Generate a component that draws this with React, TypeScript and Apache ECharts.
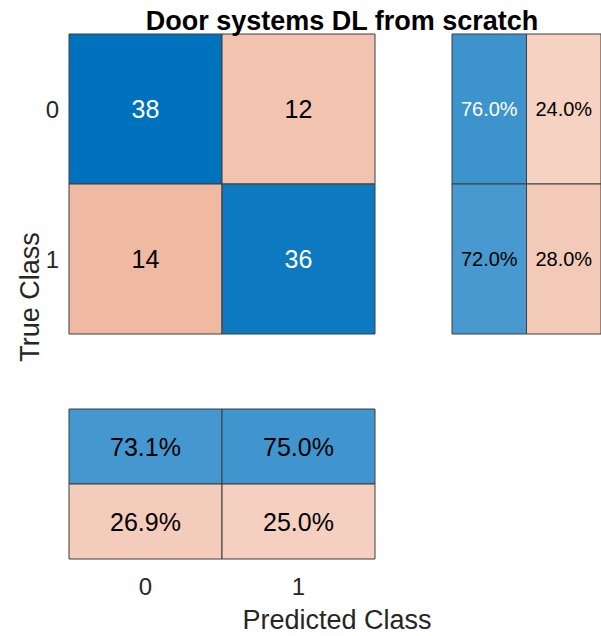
import React, { useEffect, useRef } from "react";
import * as echarts from "echarts";

const titleText = "Door systems DL from scratch";
const classes = ["0", "1"];
const yAxisTitle = "True Class";
const xAxisTitle = "Predicted Class";
// confusion counts [trueRow][predCol]
const counts = [
  [38, 12],
  [14, 36],
];
// row summary (per true class): [correct %, incorrect %]
const rowSummary = [
  [76.0, 24.0],
  [72.0, 28.0],
];
// column summary (per predicted class): row 0 = correct %, row 1 = incorrect %
const colSummary = [
  [73.1, 75.0],
  [26.9, 25.0],
];

const FONT = "'Liberation Sans', Arial, Helvetica, sans-serif";
const BLUE = [0, 114, 189];
const ORANGE = [217, 83, 25];

function mix(c: number[], f: number) {
  const r = Math.round(255 - (255 - c[0]) * f);
  const g = Math.round(255 - (255 - c[1]) * f);
  const b = Math.round(255 - (255 - c[2]) * f);
  return `rgb(${r},${g},${b})`;
}

type Cell = { value: number[]; fill: string; txt: string; color: string };

function makeRender(cells: Cell[], fontSize: number) {
  return (params: any, api: any) => {
    const cell = cells[params.dataIndex];
    const c = api.coord([api.value(0), api.value(1)]);
    const s = api.size([1, 1]);
    return {
      type: "group",
      children: [
        {
          type: "rect",
          shape: { x: c[0] - s[0] / 2, y: c[1] - s[1] / 2, width: s[0], height: s[1] },
          style: { fill: cell.fill, stroke: "#3c3c3c", lineWidth: 1 },
        },
        {
          type: "text",
          x: c[0],
          y: c[1],
          style: {
            text: cell.txt,
            fill: cell.color,
            fontFamily: FONT,
            fontSize,
            align: "center",
            verticalAlign: "middle",
          },
        },
      ],
    };
  };
}

export default function App() {
  const ref = useRef<HTMLDivElement>(null);
  useEffect(() => {
    if (!ref.current) return;
    const chart = echarts.init(ref.current, undefined, { renderer: "svg" });
    const maxCount = Math.max(...counts.flat());
    const ORANGE_GAIN = 1.1;

    const mainCells: Cell[] = [];
    counts.forEach((row, i) =>
      row.forEach((v, j) => {
        const diag = i === j;
        const f = v / maxCount;
        mainCells.push({
          value: [j, i, v],
          fill: mix(diag ? BLUE : ORANGE, diag ? f : f * ORANGE_GAIN),
          txt: String(v),
          color: diag && f > 0.6 ? "#ffffff" : "#000000",
        });
      })
    );

    const rowCells: Cell[] = [];
    rowSummary.forEach((row, i) =>
      row.forEach((v, j) => {
        const good = j === 0;
        const f = v / 100;
        rowCells.push({
          value: [j, i, v],
          fill: mix(good ? BLUE : ORANGE, good ? f : f * ORANGE_GAIN),
          txt: v.toFixed(1) + "%",
          color: good && f > 0.755 ? "#ffffff" : "#000000",
        });
      })
    );

    const colCells: Cell[] = [];
    colSummary.forEach((row, i) =>
      row.forEach((v, j) => {
        const good = i === 0;
        const f = v / 100;
        colCells.push({
          value: [j, i, v],
          fill: mix(good ? BLUE : ORANGE, good ? f : f * ORANGE_GAIN),
          txt: v.toFixed(1) + "%",
          color: good && f > 0.755 ? "#ffffff" : "#000000",
        });
      })
    );

    const hiddenAxis = {
      type: "category" as const,
      axisLine: { show: false },
      axisTick: { show: false },
      axisLabel: { show: false },
      splitLine: { show: false },
    };

    chart.setOption({
      animation: false,
      backgroundColor: "#ffffff",
      title: {
        text: titleText,
        left: 337,
        top: 2,
        textAlign: "center",
        textStyle: { fontFamily: FONT, fontWeight: "bold", fontSize: 27, color: "#000" },
      },
      grid: [
        { left: 69, top: 34, width: 306, height: 300 },
        { left: 452, top: 34, width: 152, height: 300 },
        { left: 69, top: 409, width: 306, height: 150 },
      ],
      xAxis: [
        { ...hiddenAxis, gridIndex: 0, data: classes },
        { ...hiddenAxis, gridIndex: 1, data: ["c", "i"] },
        {
          ...hiddenAxis,
          gridIndex: 2,
          data: classes,
          axisLabel: { show: true, margin: 15, fontFamily: FONT, fontSize: 24, color: "#262626" },
        },
      ],
      yAxis: [
        {
          ...hiddenAxis,
          gridIndex: 0,
          data: classes,
          inverse: true,
          axisLabel: { show: true, margin: 10, fontFamily: FONT, fontSize: 24, color: "#262626" },
        },
        { ...hiddenAxis, gridIndex: 1, data: classes, inverse: true },
        { ...hiddenAxis, gridIndex: 2, data: ["c", "i"], inverse: true },
      ],
      series: [
        {
          type: "custom",
          xAxisIndex: 0,
          yAxisIndex: 0,
          data: mainCells.map((c) => c.value),
          renderItem: makeRender(mainCells, 25),
        },
        {
          type: "custom",
          xAxisIndex: 1,
          yAxisIndex: 1,
          data: rowCells.map((c) => c.value),
          renderItem: makeRender(rowCells, 20),
        },
        {
          type: "custom",
          xAxisIndex: 2,
          yAxisIndex: 2,
          data: colCells.map((c) => c.value),
          renderItem: makeRender(colCells, 25),
        },
      ],
      graphic: [
        {
          type: "text",
          x: 30,
          y: 297,
          rotation: Math.PI / 2,
          style: {
            text: yAxisTitle,
            fontFamily: FONT,
            fontSize: 27,
            fill: "#262626",
            align: "center",
            verticalAlign: "middle",
          },
        },
        {
          type: "text",
          x: 337,
          y: 620,
          style: {
            text: xAxisTitle,
            fontFamily: FONT,
            fontSize: 27,
            fill: "#262626",
            align: "center",
            verticalAlign: "middle",
          },
        },
      ],
    });
    return () => chart.dispose();
  }, []);
  return (
    <div
      ref={ref}
      style={{ position: "fixed", left: 0, top: 0, width: 601, height: 636 }}
    />
  );
}
